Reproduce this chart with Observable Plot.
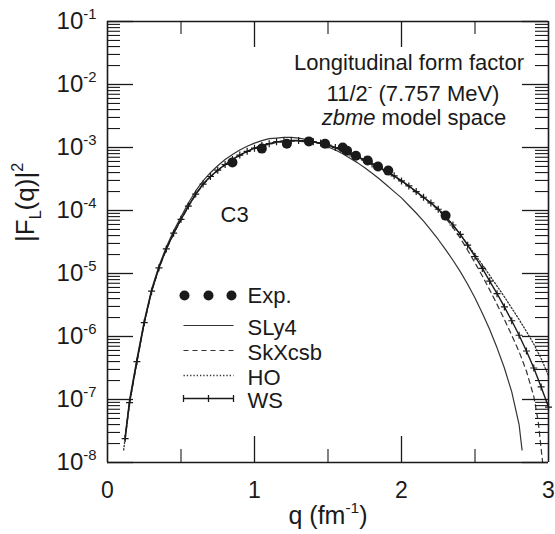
<!DOCTYPE html>
<html><head><meta charset="utf-8">
<script src="https://cdn.jsdelivr.net/npm/d3@7"></script>
<script src="https://cdn.jsdelivr.net/npm/@observablehq/plot@0.6"></script>
<style>
html,body{margin:0;padding:0;background:#fff;}
</style></head><body><div id="chart"></div>
<script>
// ---------- data (log10 of |F_L(q)|^2) ----------
const qGrid = [0.12,0.15,0.20,0.25,0.30,0.35,0.40,0.45,0.50,0.55,0.60,0.65,0.70,0.75,0.80,0.85,0.90,0.95,1.00,1.05,1.10,1.15,1.20,1.25,1.30,1.35,1.40,1.45,1.50,1.55,1.60,1.65,1.70,1.75,1.80,1.85,1.90,1.95,2.00,2.05,2.10,2.15,2.20,2.25,2.30,2.35,2.40,2.45,2.50,2.55,2.60,2.65,2.70,2.75,2.80,2.85,2.90,2.95,3.00];

const wsLog = [-7.62,-7.05,-6.40,-5.78,-5.28,-4.91,-4.61,-4.36,-4.14,-3.93,-3.74,-3.58,-3.46,-3.36,-3.27,-3.19,-3.12,-3.06,-3.01,-2.97,-2.94,-2.91,-2.90,-2.89,-2.89,-2.90,-2.91,-2.93,-2.96,-3.00,-3.04,-3.09,-3.14,-3.20,-3.26,-3.32,-3.38,-3.45,-3.53,-3.61,-3.70,-3.79,-3.88,-3.98,-4.10,-4.23,-4.38,-4.55,-4.73,-4.92,-5.12,-5.32,-5.53,-5.75,-5.98,-6.23,-6.50,-6.80,-7.12];

const qSLy4 = qGrid.filter(q => q <= 2.80).concat([2.82]);
const sly4Log = [-7.58,-7.00,-6.35,-5.75,-5.25,-4.88,-4.58,-4.32,-4.10,-3.88,-3.69,-3.53,-3.40,-3.29,-3.19,-3.11,-3.04,-2.98,-2.93,-2.89,-2.86,-2.85,-2.84,-2.84,-2.85,-2.87,-2.90,-2.94,-2.99,-3.04,-3.10,-3.17,-3.24,-3.32,-3.41,-3.50,-3.60,-3.70,-3.80,-3.92,-4.04,-4.17,-4.31,-4.46,-4.62,-4.79,-4.97,-5.17,-5.39,-5.63,-5.89,-6.18,-6.50,-6.88,-7.40,-7.80];

const qSkX = qGrid.filter(q => q <= 2.90).concat([2.93, 2.96]);
const skxLog = [-7.64,-7.06,-6.41,-5.79,-5.29,-4.92,-4.62,-4.37,-4.15,-3.94,-3.75,-3.59,-3.47,-3.37,-3.28,-3.20,-3.13,-3.07,-3.02,-2.98,-2.95,-2.92,-2.91,-2.90,-2.90,-2.91,-2.92,-2.94,-2.97,-3.01,-3.05,-3.10,-3.15,-3.21,-3.27,-3.33,-3.39,-3.46,-3.54,-3.62,-3.71,-3.80,-3.89,-3.99,-4.12,-4.27,-4.44,-4.63,-4.83,-5.04,-5.26,-5.49,-5.73,-5.98,-6.24,-6.55,-6.95,-7.35,-8.00];

const qHO = [0.11].concat(qGrid);
const hoLog = [-7.80,-7.61,-7.04,-6.39,-5.78,-5.28,-4.91,-4.61,-4.36,-4.14,-3.93,-3.74,-3.58,-3.46,-3.36,-3.27,-3.19,-3.12,-3.06,-3.01,-2.97,-2.94,-2.91,-2.90,-2.89,-2.89,-2.90,-2.91,-2.93,-2.96,-3.00,-3.04,-3.09,-3.14,-3.20,-3.26,-3.32,-3.38,-3.45,-3.53,-3.61,-3.70,-3.79,-3.88,-3.97,-4.09,-4.23,-4.38,-4.54,-4.70,-4.86,-5.03,-5.20,-5.37,-5.55,-5.73,-5.92,-6.12,-6.35,-6.62];

const expQ = [0.85,1.05,1.22,1.37,1.48,1.60,1.63,1.69,1.77,1.84,1.91,2.30];
const expF = [5.8e-4,9.6e-4,1.15e-3,1.25e-3,1.15e-3,1.0e-3,8.9e-4,7.4e-4,6.2e-4,5.0e-4,4.3e-4,8.3e-5];

const yTickExps = [-8,-7,-6,-5,-4,-3,-2,-1];
const xTickLabels = [0,1,2,3];
const xInnerMajor = [1,2];
const xMinor = [0.5,1.5,2.5];
const legendLabels = ["Exp.","SLy4","SkXcsb","HO","WS"];
const annotLines = ["Longitudinal form factor","11/2^{-} (7.757 MeV)","*zbme* model space"];
const xTitle = "q (fm^{-1})";
const yTitle = "|F_{L}(q)|^{2}";
const stateLabel = "C3";

// ---------- build tables ----------
const zip = (qs, logs) => qs.map((q,i) => ({q, f: Math.pow(10, logs[i])}));
const ws = zip(qGrid, wsLog), sly4 = zip(qSLy4, sly4Log), skx = zip(qSkX, skxLog), ho = zip(qHO, hoLog);
const exp = expQ.map((q,i) => ({q, f: expF[i]}));
const yMajor = yTickExps.map(e => Math.pow(10, e));
const yMinor = [];
for (const e of yTickExps.slice(0,-1)) for (let m = 2; m <= 9; m++) yMinor.push(m * Math.pow(10, e));

// ---------- layout ----------
const W = 555, H = 534, mL = 107, mR = 7, mT = 21, mB = 72;
const iw = W - mL - mR, ih = H - mT - mB;
const INK = "#1a1a1a";
const font = "'Liberation Sans', Arial, Helvetica, sans-serif";

const plusSym = a => ({draw(c){ c.moveTo(-a,0); c.lineTo(a,0); c.moveTo(0,-a); c.lineTo(0,a); }});
const segSym = (L, ticks) => ({draw(c){
  c.moveTo(-L/2,0); c.lineTo(L/2,0);
  if (ticks) for (const t of [-L/2,0,L/2]) { c.moveTo(t,-3.5); c.lineTo(t,3.5); }
}});

const marks = [
  Plot.line(ho, {x:"q", y:"f", stroke:"#333", strokeWidth:1.3, strokeDasharray:"1.3,2"}),
  Plot.line(skx, {x:"q", y:"f", stroke:"#333", strokeWidth:1.2, strokeDasharray:"5,4"}),
  Plot.line(sly4, {x:"q", y:"f", stroke:"#333", strokeWidth:1.2}),
  Plot.line(ws, {x:"q", y:"f", stroke:INK, strokeWidth:1.4}),
  Plot.dot(ws, {x:"q", y:"f", symbol: plusSym(3.5), stroke:INK, strokeWidth:1.2, fill:"none"}),
  Plot.dot(exp, {x:"q", y:"f", r:5, fill:INK, stroke:"none"}),
  // frame
  Plot.ruleX([0, 3], {x:d=>d, stroke:INK, strokeWidth:1.6}),
  Plot.ruleY([1e-8, 1e-1], {y:d=>d, stroke:INK, strokeWidth:1.6}),
  // inward ticks
  Plot.tickY(yMajor, {y:d=>d, insetRight: iw-26, stroke:INK, strokeWidth:1.3}),
  Plot.tickY(yMinor, {y:d=>d, insetRight: iw-13, stroke:INK, strokeWidth:1.1}),
  Plot.tickY(yMajor, {y:d=>d, insetLeft: iw-26, stroke:INK, strokeWidth:1.3}),
  Plot.tickY(yMinor, {y:d=>d, insetLeft: iw-13, stroke:INK, strokeWidth:1.1}),
  Plot.tickX(xInnerMajor, {x:d=>d, insetTop: ih-26, stroke:INK, strokeWidth:1.3}),
  Plot.tickX(xMinor, {x:d=>d, insetTop: ih-13, stroke:INK, strokeWidth:1.1}),
  Plot.tickX(xInnerMajor, {x:d=>d, insetBottom: ih-26, stroke:INK, strokeWidth:1.3}),
  Plot.tickX(xMinor, {x:d=>d, insetBottom: ih-13, stroke:INK, strokeWidth:1.1}),
  // axes labels
  Plot.axisY({ticks: yMajor, tickSize:0, tickPadding:11, fontSize:24, label:null,
    tickFormat: d => `10^{${Math.round(Math.log10(d))}}`}),
  Plot.axisX({ticks: xTickLabels, tickSize:0, tickPadding:19, fontSize:23, label:null,
    tickFormat: d => String(d)}),
  Plot.text([yTitle], {text:d=>d, frameAnchor:"left", dx:-82, rotate:-90, lineAnchor:"middle", fontSize:26, fill:INK}),
  Plot.text([xTitle], {text:d=>d, frameAnchor:"bottom", dy:53, lineAnchor:"middle", fontSize:25, fill:INK}),
  // annotations
  Plot.text([annotLines[0]], {text:d=>d, frameAnchor:"top", dx:81, dy:41, lineAnchor:"middle", fontSize:22, fill:INK}),
  Plot.text([annotLines[1]], {text:d=>d, frameAnchor:"top", dx:85, dy:72, lineAnchor:"middle", fontSize:22, fill:INK}),
  Plot.text([annotLines[2]], {text:d=>d, frameAnchor:"top", dx:86, dy:96, lineAnchor:"middle", fontSize:22, fill:INK}),
  Plot.text([stateLabel], {text:d=>d, frameAnchor:"top-left", dx:113, dy:193, textAnchor:"start", lineAnchor:"middle", fontSize:22, fill:INK})
];

// legend
const legendRowDy = [274, 304, 329, 354, 377];
const legendTextDy = [274, 306, 331, 356, 379];
for (const dx of [77, 101, 124]) marks.push(Plot.dot([0], {frameAnchor:"top-left", dx, dy:legendRowDy[0], r:5, fill:INK, stroke:"none"}));
marks.push(Plot.dot([0], {frameAnchor:"top-left", dx:101, dy:legendRowDy[1], symbol:segSym(50,false), stroke:"#333", strokeWidth:1.2, fill:"none"}));
marks.push(Plot.dot([0], {frameAnchor:"top-left", dx:101, dy:legendRowDy[2], symbol:segSym(50,false), stroke:"#333", strokeWidth:1.2, strokeDasharray:"5,4", fill:"none"}));
marks.push(Plot.dot([0], {frameAnchor:"top-left", dx:101, dy:legendRowDy[3], symbol:segSym(50,false), stroke:"#333", strokeWidth:1.3, strokeDasharray:"1.3,2", fill:"none"}));
marks.push(Plot.dot([0], {frameAnchor:"top-left", dx:101, dy:legendRowDy[4], symbol:segSym(50,true), stroke:INK, strokeWidth:1.3, fill:"none"}));
legendLabels.forEach((lab, i) => marks.push(Plot.text([lab], {text:d=>d, frameAnchor:"top-left", dx:140, dy:legendTextDy[i], textAnchor:"start", lineAnchor:"middle", fontSize:22, fill:INK})));

const chart = Plot.plot({
  width: W, height: H,
  marginLeft: mL, marginRight: mR, marginTop: mT, marginBottom: mB,
  x: {domain:[0,3], axis:null},
  y: {type:"log", domain:[1e-8, 1e-1], axis:null},
  style: {fontFamily: font, color: INK, background: "#fff", overflow: "visible"},
  marks
});
document.getElementById("chart").appendChild(chart);

// rich text: ^{sup}, _{sub}, *italic*
function rich(el) {
  const s = el.textContent;
  if (!/\^\{|_\{|\*/.test(s)) return;
  const fs = parseFloat(getComputedStyle(el).fontSize) || 16;
  el.textContent = "";
  const parts = s.split(/(\^\{[^}]*\}|_\{[^}]*\}|\*[^*]+\*)/).filter(p => p !== "");
  let cur = 0;
  for (const p of parts) {
    const t = document.createElementNS("http://www.w3.org/2000/svg", "tspan");
    let target = 0, txt = p;
    if (p.startsWith("^{")) { target = -0.42*fs; txt = p.slice(2,-1); t.setAttribute("font-size", (0.62*fs)+"px"); }
    else if (p.startsWith("_{")) { target = 0.28*fs; txt = p.slice(2,-1); t.setAttribute("font-size", (0.62*fs)+"px"); }
    else if (p.startsWith("*")) { txt = p.slice(1,-1); t.setAttribute("font-style","italic"); }
    if (target !== cur) t.setAttribute("dy", (target-cur)+"px");
    cur = target;
    t.textContent = txt;
    el.appendChild(t);
  }
}
chart.querySelectorAll("text").forEach(rich);
</script>
</body></html>
